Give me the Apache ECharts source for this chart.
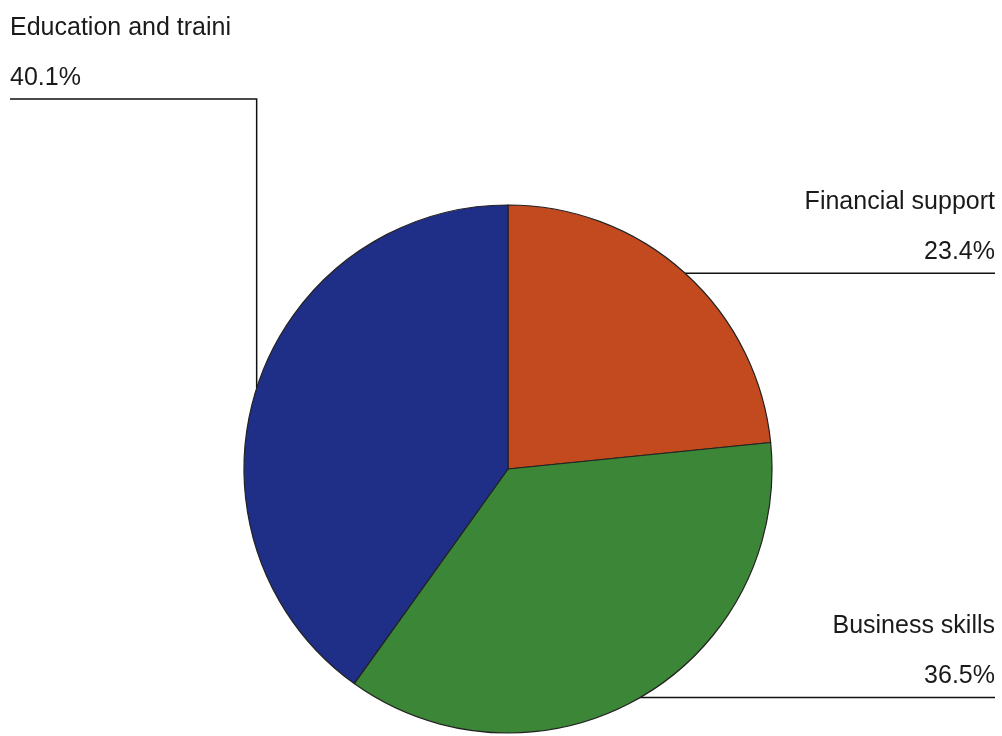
<!DOCTYPE html>
<html>
<head>
<meta charset="utf-8">
<title>Support types</title>
<script src="https://cdn.jsdelivr.net/npm/echarts@6/dist/echarts.min.js"></script>
<style>
  html, body { margin: 0; padding: 0; background: #ffffff; }
  #chart { width: 1002px; height: 736px; }
</style>
</head>
<body>
<div id="chart"></div>
<script>
// Slice order runs clockwise from 12 o'clock
const categories = ['Financial support', 'Business skills', 'Education and traini'];
const shares = [23.4, 36.5, 40.1];
const sliceColors = ['#c34a1f', '#3c8637', '#1f2e86'];

const chart = echarts.init(document.getElementById('chart'), null, { renderer: 'canvas' });

const pieCenter = [508, 469];
const pieRadius = 264;
const fontStack = '"Liberation Sans", Arial, sans-serif';

chart.setOption({
  backgroundColor: '#ffffff',
  animation: false,
  series: [{
    type: 'pie',
    center: pieCenter,
    radius: pieRadius,
    startAngle: 90,
    clockwise: true,
    avoidLabelOverlap: false,
    data: categories.map((name, i) => ({
      name: name,
      value: shares[i],
      itemStyle: { color: sliceColors[i] }
    })),
    itemStyle: {
      borderColor: '#222222',
      borderWidth: 1.2
    },
    label: {
      show: true,
      position: 'outer',
      formatter: '{n|{b}}\n{v|{c}%}',
      color: '#1a1a1a',
      fontFamily: fontStack,
      rich: {
        n: { fontSize: 25, lineHeight: 58, color: '#1a1a1a', fontFamily: fontStack },
        v: { fontSize: 25, lineHeight: 42, color: '#1a1a1a', fontFamily: fontStack }
      }
    },
    labelLine: {
      show: true,
      lineStyle: { color: '#111111', width: 1.5 }
    },
    labelLayout: function (params) {
      const anchor = params.labelLinePoints[0];
      if (anchor[0] < pieCenter[0]) {
        // left-hand label sits in the top-left corner, underlined by the leader
        const y = 99;
        return {
          x: 10,
          y: y,
          align: 'left',
          verticalAlign: 'bottom',
          labelLinePoints: [anchor, [anchor[0], y], [10, y]]
        };
      }
      // right-hand labels sit at the right edge, level with their slice
      const y = anchor[1];
      return {
        x: 995,
        y: y,
        align: 'right',
        verticalAlign: 'bottom',
        labelLinePoints: [anchor, [(anchor[0] + 995) / 2, y], [995, y]]
      };
    }
  }]
});
</script>
</body>
</html>
